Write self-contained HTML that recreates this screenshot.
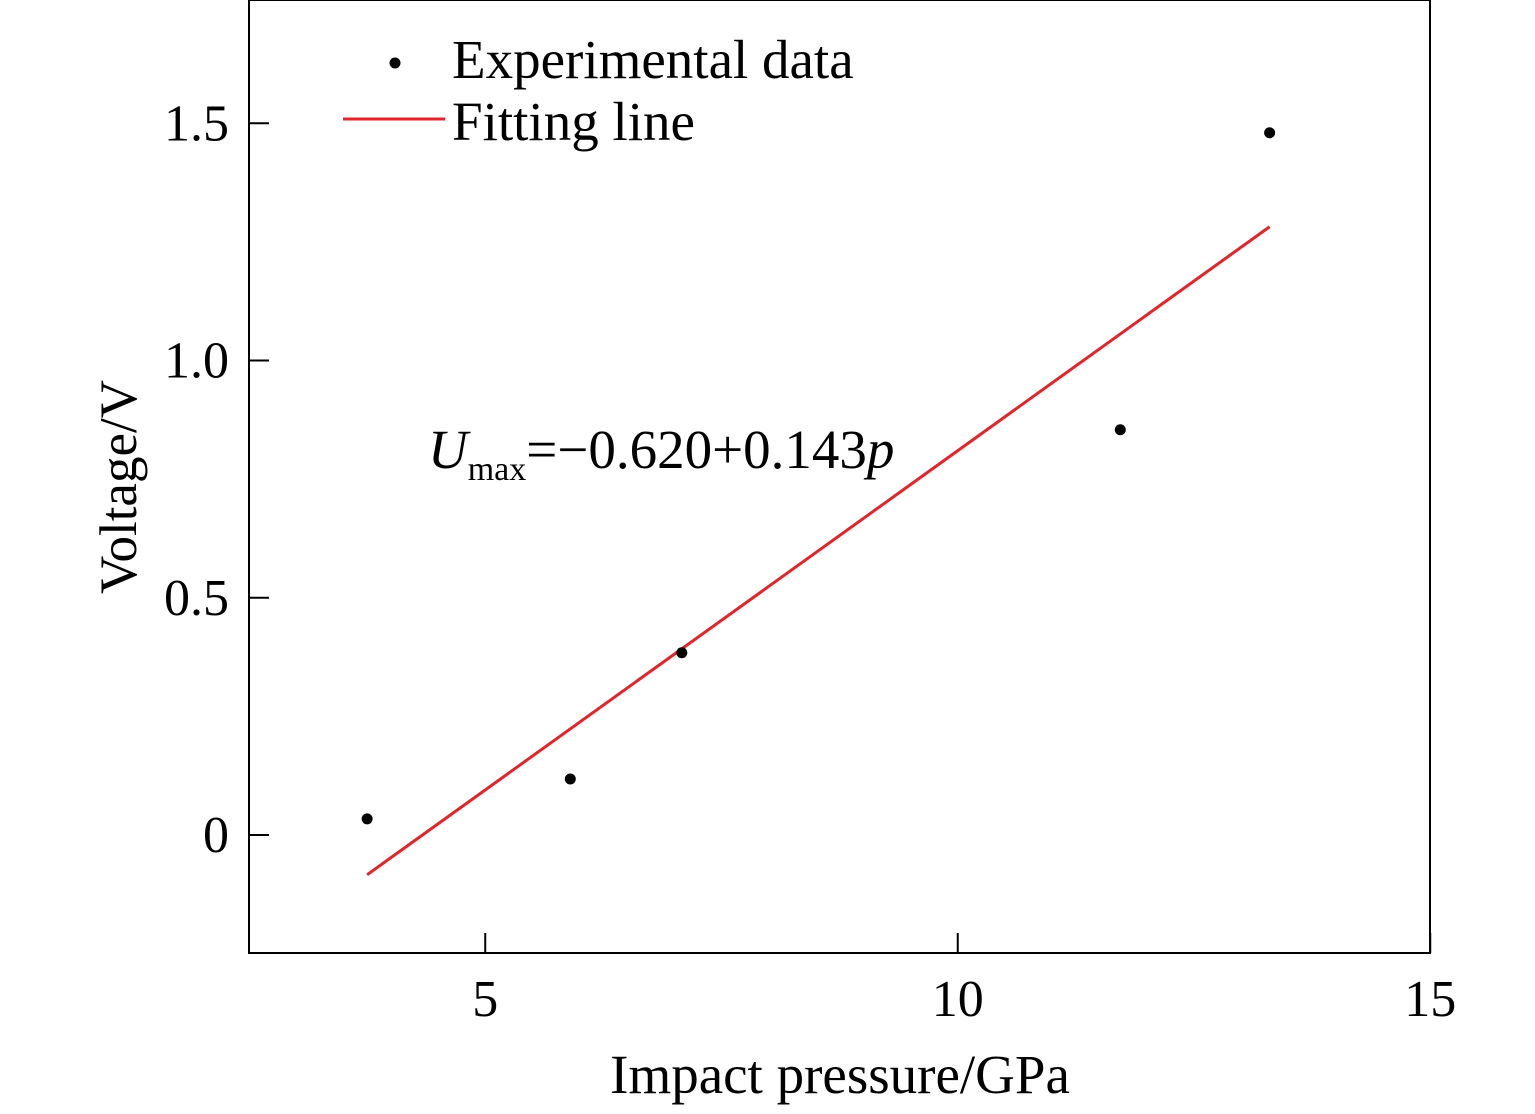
<!DOCTYPE html>
<html><head><meta charset="utf-8"><style>
html,body{margin:0;padding:0;background:#fff;}
svg{display:block;font-family:"Liberation Serif",serif;}
</style></head><body>
<svg id="chart" width="1535" height="1114" viewBox="0 0 1535 1114">
<rect x="249" y="0" width="1181" height="953" fill="none" stroke="#000" stroke-width="2"/>
<g id="ticks"></g>
<g id="marks"></g>
<text x="840" y="1093" font-size="55" text-anchor="middle">Impact pressure/GPa</text>
<text transform="translate(136,487) rotate(-90)" font-size="53" text-anchor="middle">Voltage/V</text>
<g>
<circle cx="395" cy="63" r="5.5" fill="#000"/>
<text x="452" y="78" font-size="55">Experimental data</text>
<line x1="343" y1="119" x2="445" y2="119" stroke="#e0262b" stroke-width="3"/>
<text x="452" y="140" font-size="55">Fitting line</text>
</g>
<text x="428" y="468" font-size="55"><tspan font-style="italic">U</tspan><tspan font-size="34" dy="12">max</tspan><tspan dy="-12">=−0.620+0.143</tspan><tspan font-style="italic">p</tspan></text>
</svg>
<script>
const xTicks=[5,10,15];
const yTicks=[0,0.5,1.0,1.5];
const yTickLabels=["0","0.5","1.0","1.5"];
const pressure=[3.75,5.9,7.08,11.72,13.3];
const voltage=[0.034,0.118,0.384,0.854,1.48];
const fitIntercept=-0.620;
const fitSlope=0.143;
const fitRange=[3.75,13.3];
const X=v=>249+(v-2.5)*94.5;
const Y=v=>835-v*474.5;
const NS="http://www.w3.org/2000/svg";
const tg=document.getElementById('ticks'),mg=document.getElementById('marks');
function mk(tag,attrs,parent){const e=document.createElementNS(NS,tag);for(const k in attrs)e.setAttribute(k,attrs[k]);parent.appendChild(e);return e;}
xTicks.forEach(t=>{
 const l=mk('line',{x1:X(t),x2:X(t),y1:953,y2:933,stroke:'#000','stroke-width':2},tg);
 
 
 const tx=mk('text',{x:X(t),y:1016,'font-size':52,'text-anchor':'middle'},tg);
 tx.textContent=String(t);
 
 
});
yTicks.forEach((t,i)=>{
 const l=mk('line',{x1:249,x2:269,y1:Y(t),y2:Y(t),stroke:'#000','stroke-width':2},tg);
 
 
 const tx=mk('text',{x:229,y:Y(t)+17,'font-size':52,'text-anchor':'end'},tg);
 tx.textContent=yTickLabels[i];
 
 
});
const fl=mk('line',{x1:X(fitRange[0]),y1:Y(fitIntercept+fitSlope*fitRange[0]),x2:X(fitRange[1]),y2:Y(fitIntercept+fitSlope*fitRange[1]),stroke:'#e0262b','stroke-width':3},mg);


pressure.forEach((p,i)=>{
 const c=mk('circle',{cx:X(p),cy:Y(voltage[i]),r:5.5,fill:'#000'},mg);
 
 
});
</script>
</body></html>
